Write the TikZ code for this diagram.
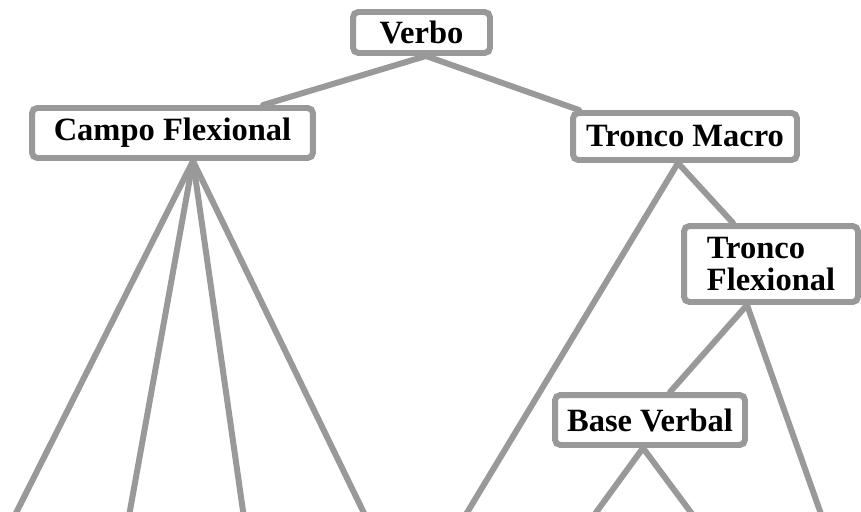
\documentclass[tikz,border=0pt]{standalone}
\usepackage{fontspec}
\setmainfont{Liberation Serif}

\begin{document}
\begin{tikzpicture}%
    [x=0.02cm,
    y=-0.02cm,
    line width=3.4pt,
    every node/.style={font=\fontsize{18.5}{18.5}\selectfont\bfseries},
    box/.style={draw=black!40, fill=white, rounded corners=3pt, inner sep=0pt},
    branch/.style={draw=black!40, line cap=round}
    ]
    \useasboundingbox (0,0) rectangle (861,511);

    \node[box, minimum width=2.74cm, minimum height=0.82cm] (verbo) at (421.5,32.5) {Verbo};
    \node[box, minimum width=5.62cm, minimum height=1.00cm] (campo) at (172.5,133)  {Campo Flexional};
    \node[box, minimum width=4.48cm, minimum height=0.94cm] (macro) at (685,136.5)  {Tronco Macro};
    \node[box, minimum width=3.48cm, minimum height=1.52cm, align=left] (tflex) at (771,264) {Tronco\\Flexional};
    \node[box, minimum width=3.80cm, minimum height=1.00cm] (base)  at (650,420)    {Base Verbal};

    % loose ends below the picture
    \coordinate (cf1) at (14.5,516);
    \coordinate (cf2) at (129,516);
    \coordinate (cf3) at (243.7,516);
    \coordinate (cf4) at (365.4,516);
    \coordinate (tm1) at (465,516);
    \coordinate (tf1) at (821.7,516);
    \coordinate (bv1) at (593.5,516);
    \coordinate (bv2) at (693.6,516);

    \path[branch]
    % FROM                          TO
    ([xshift=0.09cm]verbo.south)    edge ([xshift=1.81cm]campo.north)
    ([xshift=0.09cm]verbo.south)    edge ([xshift=0.18cm]macro.north west)
    ([xshift=0.41cm]campo.south)    edge (cf1)
    ([xshift=0.41cm]campo.south)    edge (cf2)
    ([xshift=0.41cm]campo.south)    edge (cf3)
    ([xshift=0.41cm]campo.south)    edge (cf4)
    ([xshift=-0.14cm]macro.south)   edge (tm1)
    ([xshift=-0.14cm]macro.south)   edge ([xshift=-0.76cm]tflex.north)
    ([xshift=-0.48cm]tflex.south)   edge ([xshift=0.4cm]base.north)
    ([xshift=-0.48cm]tflex.south)   edge (tf1)
    ([xshift=-0.14cm]base.south)    edge (bv1)
    ([xshift=-0.14cm]base.south)    edge (bv2)
    ;
\end{tikzpicture}
\end{document}
